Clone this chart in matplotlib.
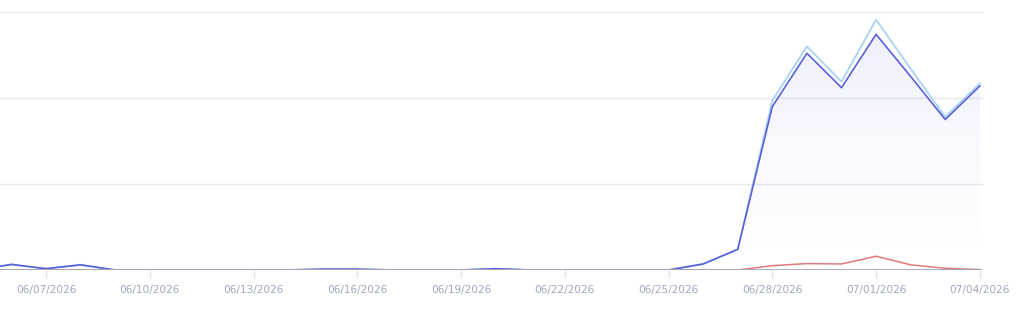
import numpy as np
import matplotlib
matplotlib.use("Agg")
import matplotlib.pyplot as plt
import matplotlib.dates as mdates
from datetime import datetime, timedelta

# daily dates 06/05/2026 .. 07/04/2026
start = datetime(2026, 6, 5)
dates = [start + timedelta(days=i) for i in range(30)]

# main series (blue)
main = [0, 6.5, 1.5, 6, 0, 0, 0, 0, 0, 0, 1, 1, 0, 0, 0, 1.5, 0, 0, 0, 0,
        0, 7, 24, 190, 252, 212, 274, 225, 175, 214]
# total series (light blue), same as main until 06/28
total = [0, 6.5, 1.5, 6, 0, 0, 0, 0, 0, 0, 1, 1, 0, 0, 0, 1.5, 0, 0, 0, 0,
         0, 7, 24, 197, 260, 219, 291, 234, 178, 217]
# errors (red)
errors = [0] * 22 + [0, 5, 7.5, 7, 16, 6, 2, 0.5]
# zero series (gray)
zeros = [0] * 30

fig = plt.figure(figsize=(10.18, 3.18), dpi=100)
ax = fig.add_axes([0, 48 / 318, 984 / 1018, 258 / 318])

x = mdates.date2num(dates)

# gradient fill under the main line
poly = ax.fill_between(x, main, 0, color="none", lw=0)
grad = np.zeros((256, 1, 4))
grad[:, 0, 0] = 0.42
grad[:, 0, 1] = 0.44
grad[:, 0, 2] = 0.93
grad[:, 0, 3] = 0.11 * np.linspace(1.0, 0.0, 256) ** 1.4
img = ax.imshow(grad, aspect="auto", extent=[x[0], x[-1], 0, 280],
                origin="upper", zorder=1)
img.set_clip_path(poly.get_paths()[0], transform=ax.transData)

ax.plot(x, total, color="#a9d3f2", lw=1.3, zorder=3)
ax.plot(x, main, color="#5a60d8", lw=1.2, zorder=4)
ax.plot(x, errors, color="#e07a7a", lw=1.1, zorder=4)
ax.plot(x, zeros, color="#a0a6b8", lw=2, zorder=5)

x0 = mdates.date2num(datetime(2026, 6, 5)) + 0.67
x1 = mdates.date2num(datetime(2026, 7, 4)) + 0.12
ax.set_xlim(x0, x1)
ax.set_ylim(0, 300)

ax.set_yticks([100, 200, 300])
ax.yaxis.grid(True, color="#e8e9ee", lw=1)
ax.tick_params(axis="y", left=False, labelleft=False)

ticks = [datetime(2026, 6, 7) + timedelta(days=3 * i) for i in range(10)]
ax.set_xticks(mdates.date2num(ticks))
ax.set_xticklabels([d.strftime("%m/%d/%Y") for d in ticks])
ax.tick_params(axis="x", length=6, width=1, color="#e2e3ea",
               labelcolor="#a0a8bb", labelsize=7.6, pad=5)

for s in ax.spines.values():
    s.set_visible(False)
ax.set_axisbelow(True)

fig.savefig("out.png", dpi=100)
